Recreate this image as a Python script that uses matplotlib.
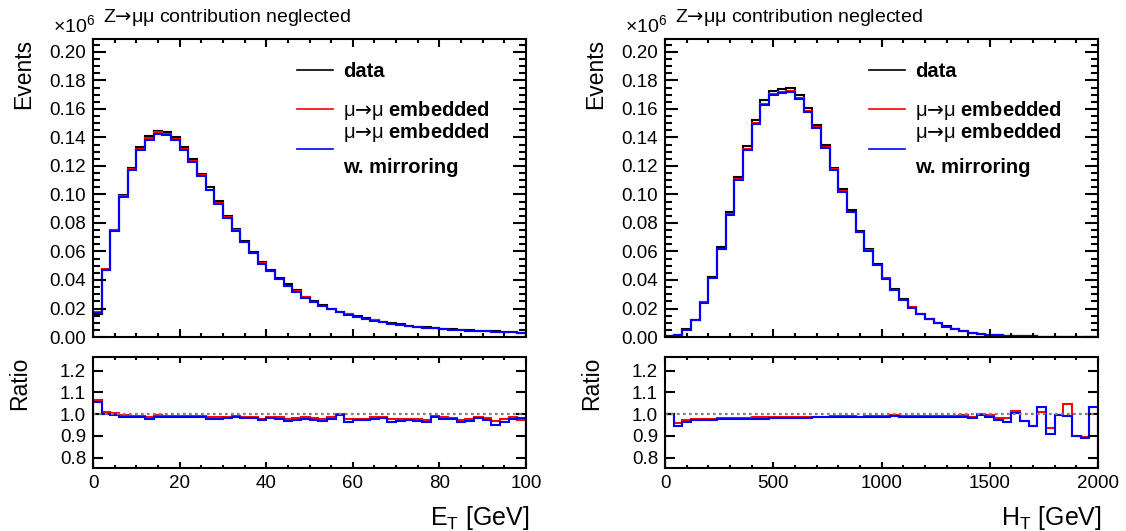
import numpy as np
import matplotlib
matplotlib.use('Agg')
import matplotlib.pyplot as plt
from matplotlib.ticker import MultipleLocator, FormatStrFormatter, NullLocator
from matplotlib.lines import Line2D

plt.rcParams['font.family'] = ['Liberation Sans', 'DejaVu Sans']
plt.rcParams['mathtext.fontset'] = 'custom'
plt.rcParams['mathtext.rm'] = 'Liberation Sans'
plt.rcParams['mathtext.it'] = 'Liberation Sans:italic'
plt.rcParams['mathtext.bf'] = 'Liberation Sans:bold'
# long arrow glyph for the decay labels
plt.rcParams['mathtext.sf'] = 'DejaVu Sans'

# --- E_T: 50 bins of 2 GeV, events in units of 1e6 ---
et_range = (0, 100)
et_data = [0.0162, 0.0472, 0.0748, 0.0993, 0.1187, 0.1330, 0.1413, 0.1444, 0.1437, 0.1401,
           0.1330, 0.1247, 0.1144, 0.1049, 0.0953, 0.0851, 0.0757, 0.0675, 0.0598, 0.0529,
           0.0468, 0.0414, 0.0369, 0.0327, 0.0283, 0.0252, 0.0225, 0.0199, 0.0177, 0.0163,
           0.0145, 0.0131, 0.0118, 0.0105, 0.0097, 0.0088, 0.0079, 0.0073, 0.0067, 0.0061,
           0.0057, 0.0053, 0.0050, 0.0046, 0.0043, 0.0040, 0.0039, 0.0035, 0.0033, 0.0031]
# embedded / data
et_ratio_emb = [1.066, 1.012, 1.005, 0.994, 0.991, 0.991, 0.986, 0.994, 0.991, 0.991,
                0.991, 0.991, 0.991, 0.986, 0.986, 0.988, 0.991, 0.989, 0.988, 0.977,
                0.989, 0.986, 0.977, 0.983, 0.985, 0.982, 0.977, 0.986, 1.000, 0.977,
                0.980, 0.980, 0.985, 0.989, 0.977, 0.977, 0.980, 0.977, 0.974, 0.992,
                0.985, 0.983, 0.971, 0.977, 0.988, 0.982, 0.968, 0.977, 0.986, 0.971]
et_ratio_mirr = [1.054, 1.000, 0.997, 0.988, 0.985, 0.985, 0.980, 0.988, 0.985, 0.985,
                 0.985, 0.985, 0.985, 0.980, 0.980, 0.982, 0.985, 0.983, 0.982, 0.971,
                 0.983, 0.980, 0.968, 0.975, 0.978, 0.975, 0.968, 0.980, 0.994, 0.962,
                 0.972, 0.972, 0.978, 0.983, 0.965, 0.968, 0.972, 0.968, 0.962, 0.986,
                 0.980, 0.977, 0.962, 0.969, 0.982, 0.971, 0.951, 0.965, 0.980, 0.982]

# --- H_T: 50 bins of 40 GeV ---
ht_range = (0, 2000)
ht_data = [0.0005, 0.0013, 0.0054, 0.0120, 0.0248, 0.0422, 0.0632, 0.0877, 0.1124, 0.1339,
           0.1523, 0.1660, 0.1728, 0.1740, 0.1747, 0.1696, 0.1607, 0.1489, 0.1346, 0.1186,
           0.1035, 0.0888, 0.0746, 0.0615, 0.0512, 0.0415, 0.0334, 0.0265, 0.0210, 0.0162,
           0.0126, 0.0097, 0.0074, 0.0055, 0.0041, 0.0028, 0.0021, 0.0016, 0.0012, 0.0009,
           0.0007, 0.0005, 0.0004, 0.0003, 0.0002, 0.00018, 0.00014, 0.00011, 0.00008, 0.00006]
ht_ratio_emb = [1.000, 0.959, 0.974, 0.978, 0.980, 0.980, 0.982, 0.982, 0.983, 0.983,
                0.985, 0.985, 0.986, 0.986, 0.986, 0.988, 0.988, 0.989, 0.989, 0.991,
                0.991, 0.991, 0.989, 0.991, 0.991, 0.991, 0.995, 0.992, 0.991, 0.991,
                0.991, 0.991, 0.992, 0.992, 0.994, 0.989, 1.000, 0.997, 0.982, 0.982,
                1.015, 0.968, 0.944, 1.012, 0.935, 0.998, 1.046, 0.902, 0.897, 1.032]
ht_ratio_mirr = [1.000, 0.946, 0.966, 0.972, 0.974, 0.974, 0.977, 0.977, 0.978, 0.978,
                 0.980, 0.980, 0.982, 0.982, 0.982, 0.983, 0.983, 0.985, 0.985, 0.986,
                 0.986, 0.986, 0.985, 0.986, 0.986, 0.986, 0.991, 0.988, 0.986, 0.986,
                 0.986, 0.986, 0.988, 0.988, 0.988, 0.982, 0.995, 0.989, 0.971, 0.962,
                 1.005, 0.968, 0.944, 1.032, 0.909, 0.998, 0.992, 0.902, 0.889, 1.032]

ARROW = '$\\mathsf{→}$'
labels = ['data',
          '$\\mathrm{μ}$' + ARROW + '$\\mathrm{μ}$ embedded',
          '$\\mathrm{μ}$' + ARROW + '$\\mathrm{μ}$ embedded\nw. mirroring']
colors = ['black', '#ff0000', '#0000ff']

fig = plt.figure(figsize=(11.26, 5.31), dpi=100)

LW = 1.5


def frame(ax):
    for s in ax.spines.values():
        s.set_linewidth(LW)
    ax.tick_params(which='both', direction='in', top=True, right=True,
                   width=LW, labelsize=13.5, pad=5)


def panel(x0, rng, data, r_emb, r_mirr, xlabel, xmajor, xminor):
    w = 0.3846
    ax = fig.add_axes([x0, 0.3653, w, 0.5612])
    rax = fig.add_axes([x0, 0.1186, w, 0.2090])

    data = np.asarray(data)
    r_emb = np.asarray(r_emb)
    r_mirr = np.asarray(r_mirr)
    edges = np.linspace(rng[0], rng[1], len(data) + 1)
    emb = data * r_emb
    mirr = data * r_mirr

    for vals, c in zip([data, emb, mirr], colors):
        ax.stairs(vals, edges, baseline=0, color=c, lw=LW)
    ax.set_xlim(*rng)
    ax.set_ylim(0, 0.209)
    frame(ax)
    ax.xaxis.set_major_locator(MultipleLocator(xmajor))
    ax.xaxis.set_minor_locator(MultipleLocator(xminor))
    ax.yaxis.set_major_locator(MultipleLocator(0.02))
    ax.yaxis.set_minor_locator(MultipleLocator(0.005))
    ax.yaxis.set_major_formatter(FormatStrFormatter('%.2f'))
    ax.tick_params(axis='x', labelbottom=False)
    ax.tick_params(axis='y', which='major', length=9.5)
    ax.tick_params(axis='y', which='minor', length=5)
    ax.tick_params(axis='x', which='major', length=6)
    ax.tick_params(axis='x', which='minor', length=3)
    ax.set_ylabel('Events', fontsize=16.5, loc='top')
    ax.yaxis.set_label_coords(-0.134, 1.0)

    ax.text(0.006, 1.024, '×10$^{6}$', transform=ax.transAxes, fontsize=14,
            ha='right', va='baseline')
    ax.text(0.023, 1.057, 'Z' + ARROW + 'μμ contribution neglected',
            transform=ax.transAxes, fontsize=14, ha='left', va='baseline')

    hd = [Line2D([], [], color=c, lw=1.2) for c in colors]
    leg1 = ax.legend(hd[:2], labels[:2], loc='center left', bbox_to_anchor=(0.472, 0.822),
                     frameon=False, borderpad=0, borderaxespad=0, handlelength=1.75,
                     handletextpad=0.5, labelspacing=0.88,
                     prop={'size': 14.5, 'weight': 'bold'})
    ax.add_artist(leg1)
    leg2 = ax.legend(hd[2:], labels[2:], loc='center left', bbox_to_anchor=(0.472, 0.631),
                     frameon=False, borderpad=0, borderaxespad=0, handlelength=1.75,
                     handletextpad=0.5, prop={'size': 14.5, 'weight': 'bold'})
    for t in leg2.get_texts():
        t.set_linespacing(1.95)

    rax.axhline(1.0, color='#808080', lw=1.6, ls=(0, (1.2, 1.5)))
    rax.stairs(r_emb, edges, baseline=0, color=colors[1], lw=LW)
    rax.stairs(r_mirr, edges, baseline=0, color=colors[2], lw=LW)
    rax.set_xlim(*rng)
    rax.set_ylim(0.753, 1.262)
    frame(rax)
    rax.xaxis.set_major_locator(MultipleLocator(xmajor))
    rax.xaxis.set_minor_locator(MultipleLocator(xminor))
    rax.yaxis.set_major_locator(MultipleLocator(0.1))
    rax.yaxis.set_minor_locator(NullLocator())
    rax.yaxis.set_major_formatter(FormatStrFormatter('%.1f'))
    rax.tick_params(axis='y', which='major', length=7)
    rax.tick_params(axis='x', which='major', length=4)
    rax.tick_params(axis='x', which='minor', length=2.5)
    rax.set_ylabel('Ratio', fontsize=16.5, loc='top')
    rax.yaxis.set_label_coords(-0.142, 1.0)
    rax.set_xlabel(xlabel, fontsize=18, loc='right')
    rax.xaxis.set_label_coords(1.008, -0.325)


panel(0.0826, et_range, et_data, et_ratio_emb, et_ratio_mirr,
      'E$_{\\mathrm{T}}$ [GeV]', 20, 5)
panel(0.5906, ht_range, ht_data, ht_ratio_emb, ht_ratio_mirr,
      'H$_{\\mathrm{T}}$ [GeV]', 500, 100)

fig.savefig('out.png', dpi=100)
